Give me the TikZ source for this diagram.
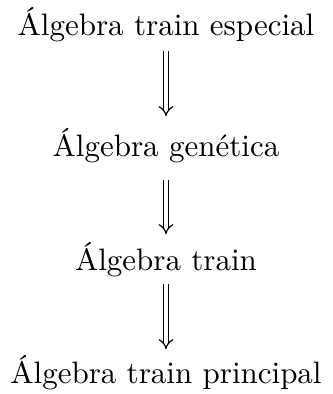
\documentclass[tikz,border=0pt]{standalone}
\usepackage{tikz}
\usetikzlibrary{arrows.meta}

\begin{document}
\begin{tikzpicture}[
        t/.style={anchor=base, inner sep=0pt, scale=1.55, transform shape},
        imp/.style={double, double distance=2pt, line width=0.6pt, -{Implies}}
    ]
    \useasboundingbox (0,0) rectangle (166pt,-197pt);
    \node[t] (esp) at (83pt,-18pt) {Álgebra train especial};
    \node[t] (gen) at (83pt,-78.5pt) {Álgebra genética};
    \node[t] (tra) at (83pt,-135pt) {Álgebra train};
    \node[t] (pri) at (83pt,-191.5pt) {Álgebra train principal};
    \draw[imp, shorten <=4pt, shorten >=6pt] (esp.south) -- (gen.north);
    \draw[imp, shorten <=8pt, shorten >=3.5pt] (gen.south) -- (tra.north);
    \draw[imp, shorten <=3.5pt, shorten >=2.5pt] (tra.south) -- (pri.north);
\end{tikzpicture}
\end{document}
